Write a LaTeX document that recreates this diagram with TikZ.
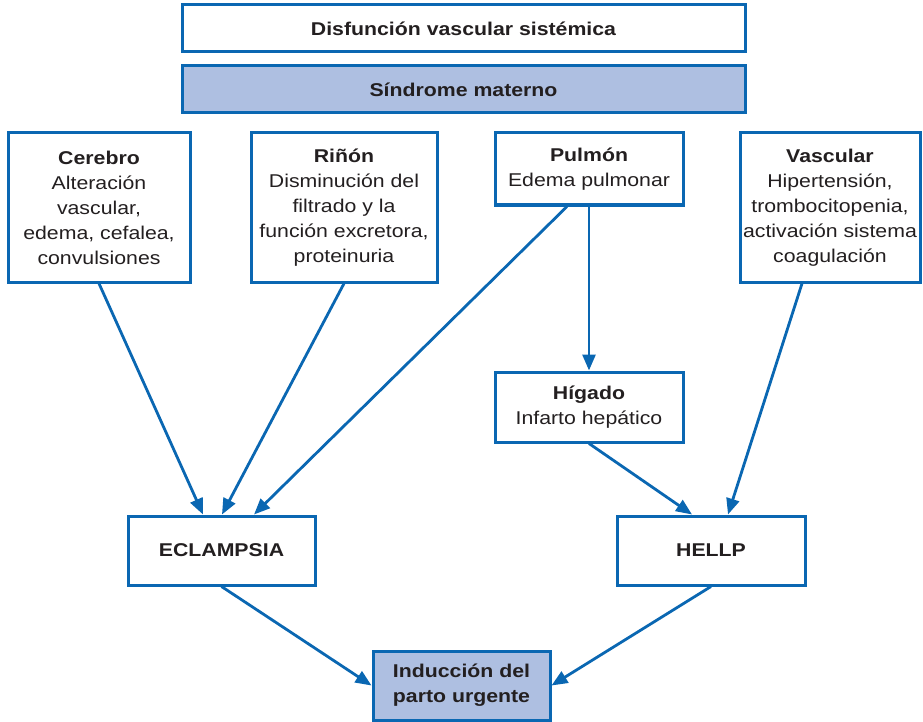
\documentclass[tikz,border=0pt]{standalone}
\usepackage{fontspec}
\setmainfont{Liberation Sans}[FakeStretch=1.15]
\usetikzlibrary{arrows.meta}
\definecolor{frameblue}{RGB}{10,103,178}
\definecolor{boxfill}{RGB}{174,191,225}
\definecolor{inkgray}{RGB}{35,31,32}

\begin{document}
\begin{tikzpicture}[x=1pt,y=-1pt,
    >={Triangle[length=16pt,width=13pt]},
    organ node/.style={rectangle,draw=frameblue,line width=3pt,fill=white,
      text=inkgray,align=center,inner sep=2pt,
      font=\fontsize{18.5}{25}\selectfont},
    key node/.style={organ node,fill=boxfill,font=\fontsize{18.5}{25}\selectfont\bfseries}]

  \useasboundingbox (0,0) rectangle (923,722);

  \node[organ node,font=\fontsize{18.5}{25}\selectfont\bfseries,
    minimum width=563pt,minimum height=47pt] (DV) at (463.5,28.5) {Disfunción vascular sistémica};
  \node[key node,minimum width=563pt,minimum height=47pt] (SM) at (463.5,89.5) {Síndrome materno};

  \node[organ node,minimum width=182pt,minimum height=149pt] (CE) at (99,207.5)
    {\textbf{Cerebro}\\Alteración\\vascular,\\edema, cefalea,\\convulsiones};
  \node[organ node,minimum width=186pt,minimum height=149pt] (RI) at (344,207.5)
    {\textbf{Riñón}\\Disminución del\\filtrado y la\\función excretora,\\proteinuria};
  \node[organ node,minimum width=188pt,minimum height=72pt] (PU) at (589,169)
    {\textbf{Pulmón}\\Edema pulmonar};
  \node[organ node,minimum width=180pt,minimum height=149pt] (VA) at (830,207.5)
    {\textbf{Vascular}\\Hipertensión,\\trombocitopenia,\\activación sistema\\coagulación};
  \node[organ node,minimum width=188pt,minimum height=70pt] (HI) at (589,407)
    {\textbf{Hígado}\\Infarto hepático};

  \node[organ node,font=\fontsize{18.5}{25}\selectfont\bfseries,
    minimum width=187pt,minimum height=69pt] (EC) at (221.5,550.5) {ECLAMPSIA};
  \node[organ node,font=\fontsize{18.5}{25}\selectfont\bfseries,
    minimum width=188pt,minimum height=69pt] (HE) at (711,550.5) {HELLP};
  \node[key node,minimum width=177pt,minimum height=69pt] (IP) at (461.5,685.5)
    {Inducción del\\parto urgente};

  \path[every edge/.append style={->,draw=frameblue,line width=2.8pt}]
    (CE.south) edge ([xshift=-18.5pt]EC.north)
    (RI.south) edge ([xshift=0.5pt]EC.north)
    ([xshift=-22pt]PU.south) edge ([xshift=32.5pt]EC.north)
    (PU.south) edge (HI.north)
    (HI.south) edge ([xshift=-19pt]HE.north)
    ([xshift=-28pt]VA.south) edge ([xshift=17pt]HE.north)
    (EC.south) edge (IP.west)
    (HE.south) edge (IP.east)
    ;
\end{tikzpicture}
\end{document}
